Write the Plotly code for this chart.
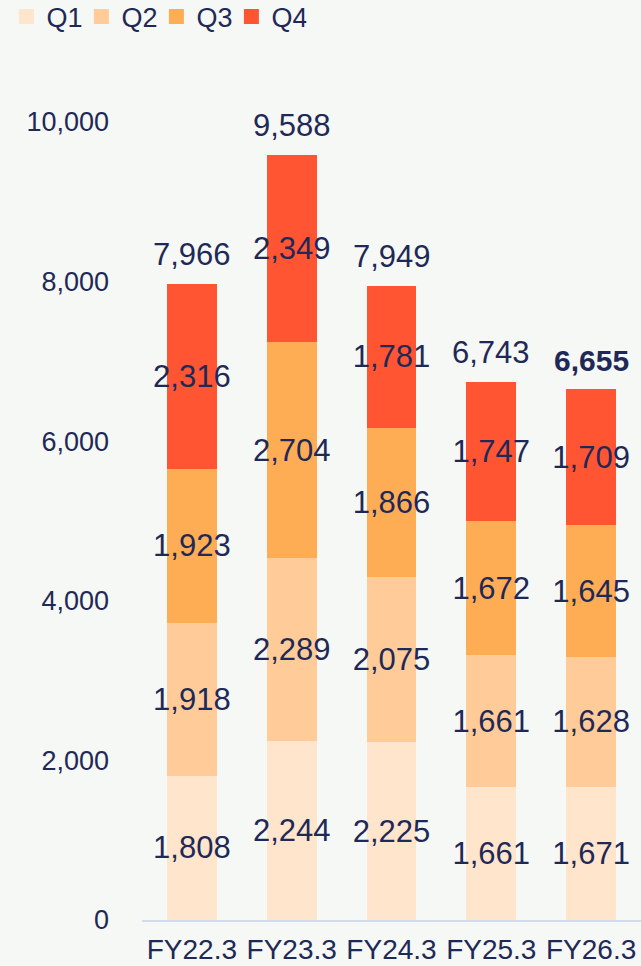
import plotly.graph_objects as go

categories = ["FY22.3", "FY23.3", "FY24.3", "FY25.3", "FY26.3"]
q1 = [1808, 2244, 2225, 1661, 1671]
q2 = [1918, 2289, 2075, 1661, 1628]
q3 = [1923, 2704, 1866, 1672, 1645]
q4 = [2316, 2349, 1781, 1747, 1709]
totals = [7966, 9588, 7949, 6743, 6655]
series_names = ["Q1", "Q2", "Q3", "Q4"]
colors = ["#FFE5CC", "#FFCC99", "#FFAD55", "#FF5533"]
tick_vals = [0, 2000, 4000, 6000, 8000, 10000]
tick_text = ["0", "2,000", "4,000", "6,000", "8,000", "10,000"]

TEXT = "#1F2957"
BG = "#F6F8F5"
FONT = "Liberation Sans, Arial, sans-serif"

fig = go.Figure()
for name, vals, col in zip(series_names, [q1, q2, q3, q4], colors):
    fig.add_trace(go.Bar(
        x=categories, y=vals, name=name, showlegend=False,
        marker=dict(color=col, line=dict(width=0)),
        text=[f"{v:,}" for v in vals],
        textposition="inside", insidetextanchor="middle",
        textangle=0,
        textfont=dict(size=31, color=TEXT, family=FONT),
        constraintext="none",
        cliponaxis=False,
    ))
    # legend entry with a larger square swatch
    fig.add_trace(go.Scatter(
        x=[None], y=[None], mode="markers", name=name,
        marker=dict(symbol="square", size=15, color=col),
        showlegend=True,
    ))

for i, (c, t) in enumerate(zip(categories, totals)):
    bold = i == len(categories) - 1
    fig.add_annotation(
        x=c, y=t, text=(f"<b>{t:,}</b>" if bold else f"{t:,}"),
        showarrow=False, yanchor="bottom", yshift=10,
        font=dict(size=31 if not bold else 30, color=TEXT, family=FONT),
    )

fig.update_layout(
    width=641, height=966,
    barmode="stack", bargap=0.5,
    paper_bgcolor=BG, plot_bgcolor=BG,
    margin=dict(l=142, r=0, t=122, b=46),
    font=dict(family=FONT, color=TEXT),
    legend=dict(
        orientation="h", xref="container", yref="container",
        x=0.01, y=1 - 17 / 966, xanchor="left", yanchor="middle",
        font=dict(size=27, color=TEXT, family=FONT),
        traceorder="normal", itemwidth=30,
        entrywidth=30, entrywidthmode="pixels",
        bgcolor="rgba(0,0,0,0)",
    ),
    showlegend=True,
)
fig.update_xaxes(
    showgrid=False, showline=True, linecolor="#D3DAEC", linewidth=2,
    tickfont=dict(size=28, color=TEXT, family=FONT),
    ticks="", ticklabelstandoff=3, automargin=False,
)
fig.update_yaxes(
    range=[0, 10000], showgrid=False, zeroline=False, showline=False,
    tickvals=tick_vals, ticktext=tick_text,
    tickfont=dict(size=27, color=TEXT, family=FONT),
    ticks="", ticklabelstandoff=32, automargin=False,
)

fig.write_html("out.html")
